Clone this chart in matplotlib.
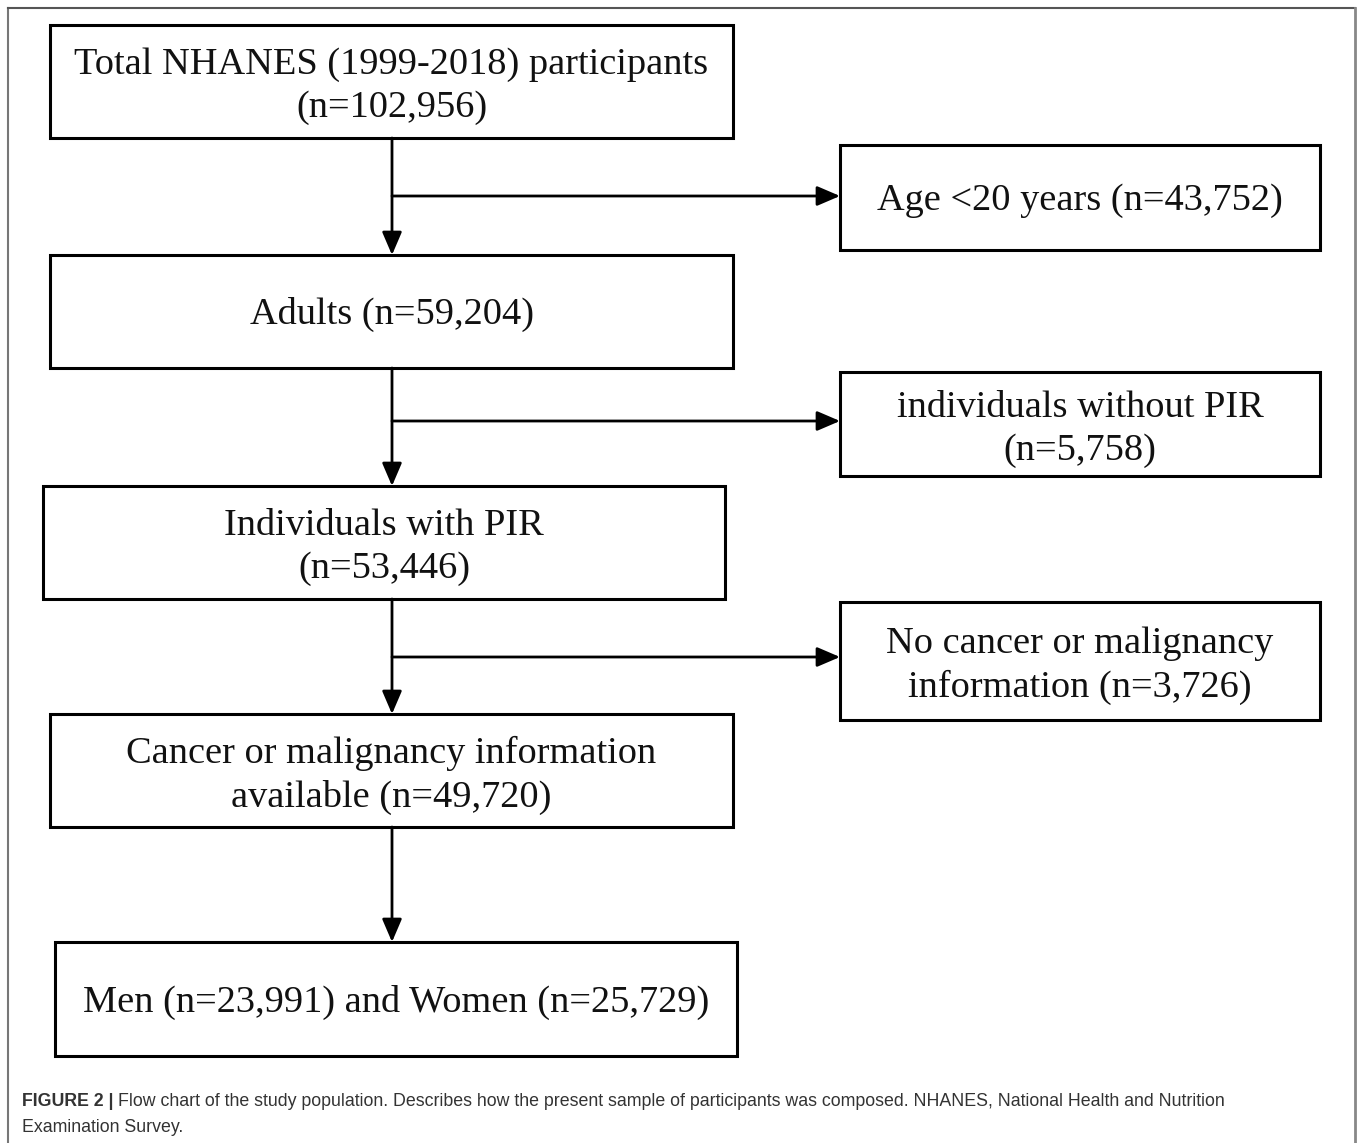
import matplotlib
matplotlib.use("Agg")
import matplotlib.pyplot as plt
from matplotlib.patches import Rectangle, FancyArrowPatch
from matplotlib.lines import Line2D

# ---- data ----
main_labels = [
    "Total NHANES (1999-2018) participants\n(n=102,956)",
    "Adults (n=59,204)",
    "Individuals with PIR\n(n=53,446)",
    "Cancer or malignancy information\navailable (n=49,720)",
    "Men (n=23,991) and Women (n=25,729)",
]
excluded_labels = [
    "Age <20 years (n=43,752)",
    "individuals without PIR\n(n=5,758)",
    "No cancer or malignancy\ninformation (n=3,726)",
]
caption_bold = "FIGURE 2 |"
caption_line1 = "Flow chart of the study population. Describes how the present sample of participants was composed. NHANES, National Health and Nutrition"
caption_line2 = "Examination Survey."

# ---- layout (pixels) ----
W, H = 1358, 1143
main_boxes = [(50, 25, 733, 138), (50, 255, 733, 368), (43, 486, 725, 599),
              (50, 714, 733, 827), (55, 942, 737, 1056)]
excl_boxes = [(840, 145, 1320, 250), (840, 372, 1320, 476), (840, 602, 1320, 720)]
spine_x = 392
branch_y = [196, 421, 657]

fig = plt.figure(figsize=(W / 100, H / 100), dpi=100)
ax = fig.add_axes([0, 0, 1, 1])
ax.set_xlim(0, W)
ax.set_ylim(H, 0)
ax.axis("off")

serif = ["Liberation Serif", "DejaVu Serif"]
fs = 27.6

def box(b, label):
    x0, y0, x1, y1 = b
    ax.add_patch(Rectangle((x0, y0), x1 - x0, y1 - y0, fill=False,
                           edgecolor="black", linewidth=2.2))
    off = 5 if "\n" in label else 3
    ax.text((x0 + x1) / 2, (y0 + y1) / 2 + off, label, ha="center", va="center",
            fontsize=fs, family=serif, color="#111111", linespacing=1.33)

for b, lab in zip(main_boxes, main_labels):
    box(b, lab)
for b, lab in zip(excl_boxes, excluded_labels):
    box(b, lab)

def arrow(p0, p1):
    ax.add_patch(FancyArrowPatch(p0, p1, arrowstyle="-|>,head_length=0.7,head_width=0.3",
                                 mutation_scale=20, color="black", linewidth=2.0,
                                 shrinkA=0, shrinkB=0))

for i in range(len(main_boxes) - 1):
    arrow((spine_x, main_boxes[i][3]), (spine_x, main_boxes[i + 1][1]))
for y, b in zip(branch_y, excl_boxes):
    arrow((spine_x, y), (b[0], y))

# outer frame (no bottom edge)
ax.add_line(Line2D([8, 8], [8, H], color="#777777", linewidth=1.5))
ax.add_line(Line2D([8, 1355], [8, 8], color="#555555", linewidth=1.5))
ax.add_line(Line2D([1355, 1355], [8, H], color="#888888", linewidth=2.0))

# caption
cap_font = ["Liberation Sans Narrow", "Liberation Sans", "DejaVu Sans"]
cfs = 12.75
t1 = ax.text(22, 1101, caption_bold, ha="left", va="center", fontsize=cfs,
             family=cap_font, fontweight="bold", color="#333333")
fig.canvas.draw()
bb = t1.get_window_extent(renderer=fig.canvas.get_renderer())
x_end = ax.transData.inverted().transform((bb.x1, bb.y0))[0]
ax.text(x_end + 5, 1101, caption_line1, ha="left", va="center", fontsize=cfs,
        family=cap_font, color="#333333")
ax.text(22, 1128, caption_line2, ha="left", va="center", fontsize=cfs,
        family=cap_font, color="#333333")

fig.savefig("out.png", dpi=100, facecolor="white")
